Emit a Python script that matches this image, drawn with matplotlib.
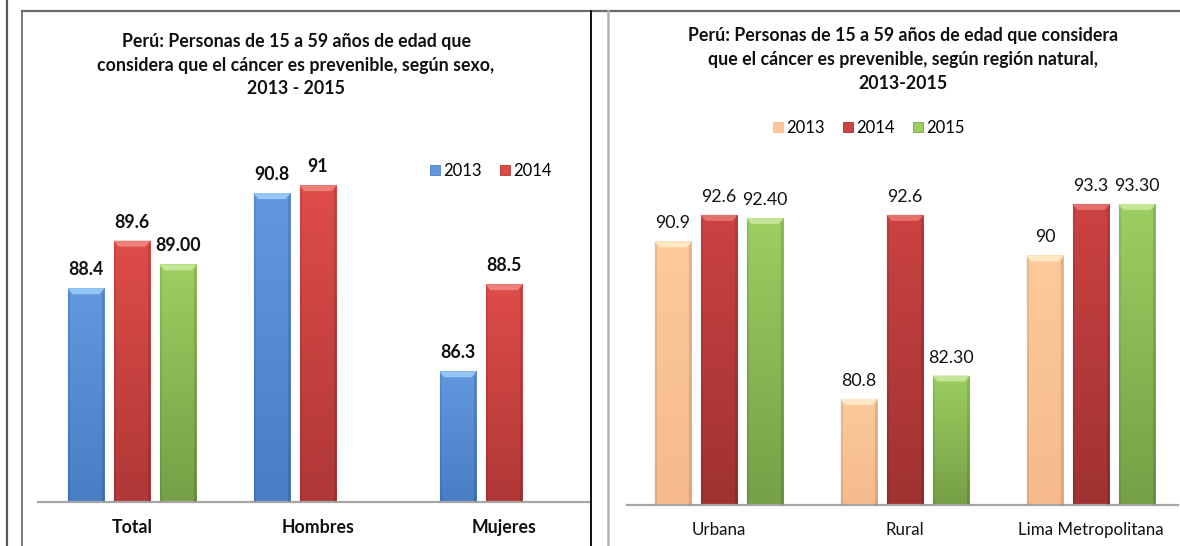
import numpy as np
import matplotlib
matplotlib.use("Agg")
import matplotlib.pyplot as plt
from matplotlib.lines import Line2D
from matplotlib.patches import Polygon
from matplotlib.colors import LinearSegmentedColormap

# ---------------- data ----------------
sexo_categories = ["Total", "Hombres", "Mujeres"]
sexo_2013 = [88.4, 90.8, 86.3]
sexo_2014 = [89.6, 91.0, 88.5]
sexo_2015 = [89.00, np.nan, np.nan]

region_categories = ["Urbana", "Rural", "Lima Metropolitana"]
region_2013 = [90.9, 80.8, 90.0]
region_2014 = [92.6, 92.6, 93.3]
region_2015 = [92.40, 82.30, 93.30]

years = ["2013", "2014", "2015"]
left_title = ("Perú: Personas de 15 a 59 años de edad que\n"
              "considera que el cáncer es prevenible, según sexo,\n"
              "2013 - 2015")
right_title = ("Perú: Personas de 15 a 59 años de edad que considera\n"
               "que el cáncer es prevenible, según región natural,\n"
               "2013-2015")

FONT = ["Lato", "DejaVu Sans"]
plt.rcParams["font.family"] = FONT

W, H = 1180, 546
fig = plt.figure(figsize=(W / 100, H / 100), dpi=100)


def fx(px):
    return px / W


def fy(py):
    return 1 - py / H


def rgb(*c):
    return tuple(v / 255 for v in c)


# colour styles: (top, bottom, bevel)
blue = (rgb(98, 152, 222), rgb(72, 126, 196), rgb(150, 198, 244))
red_l = (rgb(222, 76, 72), rgb(176, 56, 55), rgb(238, 128, 122))
green = (rgb(156, 206, 96), rgb(118, 160, 70), rgb(196, 230, 150))
peach = (rgb(252, 202, 154), rgb(246, 186, 140), rgb(255, 232, 196))
red_r = (rgb(204, 66, 66), rgb(160, 50, 50), rgb(228, 112, 110))


def fancy_bars(ax, xs, vals, style, width, ymin, ypx, xpx):
    bars = ax.bar(xs, np.array(vals, dtype=float) - ymin, width, bottom=ymin,
                  color=style[1], edgecolor="none", zorder=2)
    cmap = LinearSegmentedColormap.from_list("g", [style[1], style[0]])
    grad = np.linspace(0, 1, 64).reshape(-1, 1)
    for b in bars:
        h = b.get_height()
        if not np.isfinite(h):
            continue
        x0, y0 = b.get_x(), b.get_y()
        x1, y1 = x0 + b.get_width(), y0 + h
        im = ax.imshow(grad, extent=[x0, x1, y0, y1], origin="lower",
                       cmap=cmap, aspect="auto", zorder=2.5, interpolation="bilinear")
        im.set_clip_path(b)
        bh = 6 / ypx
        d = 5 / xpx
        bev = Polygon([(x0, y1), (x1, y1), (x1 - d, y1 - bh), (x0 + d, y1 - bh)],
                      closed=True, facecolor=style[2], edgecolor="none", zorder=3)
        ax.add_patch(bev)
        ax.add_patch(Polygon([(x0, y0), (x0, y1), (x0 + d * 0.5, y1 - bh), (x0 + d * 0.5, y0)],
                             closed=True, facecolor=(0, 0, 0, 0.08), edgecolor="none", zorder=3))
        ax.add_patch(Polygon([(x1, y0), (x1, y1), (x1 - d * 0.5, y1 - bh), (x1 - d * 0.5, y0)],
                             closed=True, facecolor=(0, 0, 0, 0.12), edgecolor="none", zorder=3))
    return bars


def label_bars(ax, bars, vals, fmt, ypx, bold, size):
    for b, v in zip(bars, vals):
        if not np.isfinite(v):
            continue
        ax.text(b.get_x() + b.get_width() / 2, v + 10 / ypx, fmt.format(v),
                ha="center", va="bottom", fontsize=size,
                fontweight="bold" if bold else "normal", color="#111111", zorder=5)


def setup_axes(rect_px, xlim, ylim, cats, bold, size):
    l, t, r, b = rect_px
    ax = fig.add_axes([fx(l), fy(b), fx(r - l), (b - t) / H])
    ax.set_xlim(*xlim)
    ax.set_ylim(*ylim)
    for s in ["top", "right", "left"]:
        ax.spines[s].set_visible(False)
    ax.spines["bottom"].set_color("#a6a6a6")
    ax.spines["bottom"].set_linewidth(1.6)
    ax.set_yticks([])
    ax.set_xticks(range(len(cats)))
    ax.set_xticklabels(cats, fontsize=size, fontweight="bold" if bold else "normal",
                       color="#111111")
    ax.tick_params(axis="x", length=0, pad=12)
    ax.patch.set_alpha(0)
    return ax


pitch = 46 / 186
bw = 37 / 186

# ---------------- left panel ----------------
L_rect = (38, 145.6, 590, 502)
axL = setup_axes(L_rect, ((38 - 132) / 186, (590 - 132) / 186), (83, 92),
                 sexo_categories, True, 12.8)
xpxL = 186.0
ypxL = (502 - 145.6) / 9
xL = np.arange(len(sexo_categories))
for i, (vals, st) in enumerate(zip([sexo_2013, sexo_2014, sexo_2015], [blue, red_l, green])):
    bars = fancy_bars(axL, xL + (i - 1) * pitch, vals, st, bw, 83, ypxL, xpxL)
    fmt = "{:.2f}" if i == 2 else "{:g}"
    label_bars(axL, bars, vals, fmt, ypxL, True, 12.8)
axL.set_xlim((38 - 132) / 186, (590 - 132) / 186)
axL.set_ylim(83, 92)

# ---------------- right panel ----------------
R_rect = (627, 177.4, 1178, 505)
axR = setup_axes(R_rect, ((627 - 719) / 186, (1178 - 719) / 186), (74, 95),
                 region_categories, False, 12.2)
xpxR = 186.0
ypxR = (505 - 177.4) / 21
xR = np.arange(len(region_categories))
for i, (vals, st) in enumerate(zip([region_2013, region_2014, region_2015], [peach, red_r, green])):
    bars = fancy_bars(axR, xR + (i - 1) * pitch, vals, st, bw, 74, ypxR, xpxR)
    fmt = "{:.2f}" if i == 2 else "{:g}"
    label_bars(axR, bars, vals, fmt, ypxR, False, 12.8)
axR.set_xlim((627 - 719) / 186, (1178 - 719) / 186)
axR.set_ylim(74, 95)

# ---------------- titles ----------------
fig.text(fx(296), fy(65), left_title, ha="center", va="center", fontsize=12.8,
         fontweight="bold", linespacing=1.5, color="#111111")
fig.text(fx(903), fy(59), right_title, ha="center", va="center", fontsize=12.8,
         fontweight="bold", linespacing=1.5, color="#111111")

# ---------------- legends ----------------
def handle(st):
    return Line2D([], [], marker="s", linestyle="none", markersize=7,
                  markerfacecolor=st[0], markeredgecolor=st[1], markeredgewidth=0.6)


fig.legend([handle(blue), handle(red_l)], years[:2], loc="center",
           bbox_to_anchor=(fx(490), fy(171)), ncol=2, frameon=False, fontsize=12,
           handletextpad=0.1, columnspacing=1.0, handlelength=0.8)
fig.legend([handle(peach), handle(red_r), handle(green)], years, loc="center",
           bbox_to_anchor=(fx(868), fy(128)), ncol=3, frameon=False, fontsize=12,
           handletextpad=0.1, columnspacing=1.0, handlelength=0.8)

# ---------------- frame lines ----------------
def fline(x0, y0, x1, y1, color, lw):
    fig.add_artist(Line2D([fx(x0), fx(x1)], [fy(y0), fy(y1)], color=color,
                          linewidth=lw, transform=fig.transFigure))


fline(6.5, 0, 6.5, H, "#5a5a5a", 1.6)
fline(22, 11, 22, H, "#7a7a7a", 1.4)
fline(22, 11, W, 11, "#6a6a6a", 1.6)
fline(591, 11, 591, H, "#111111", 1.4)
fline(608, 11, 608, H, "#b4b4b4", 1.8)

fig.savefig("out.png", dpi=100)
